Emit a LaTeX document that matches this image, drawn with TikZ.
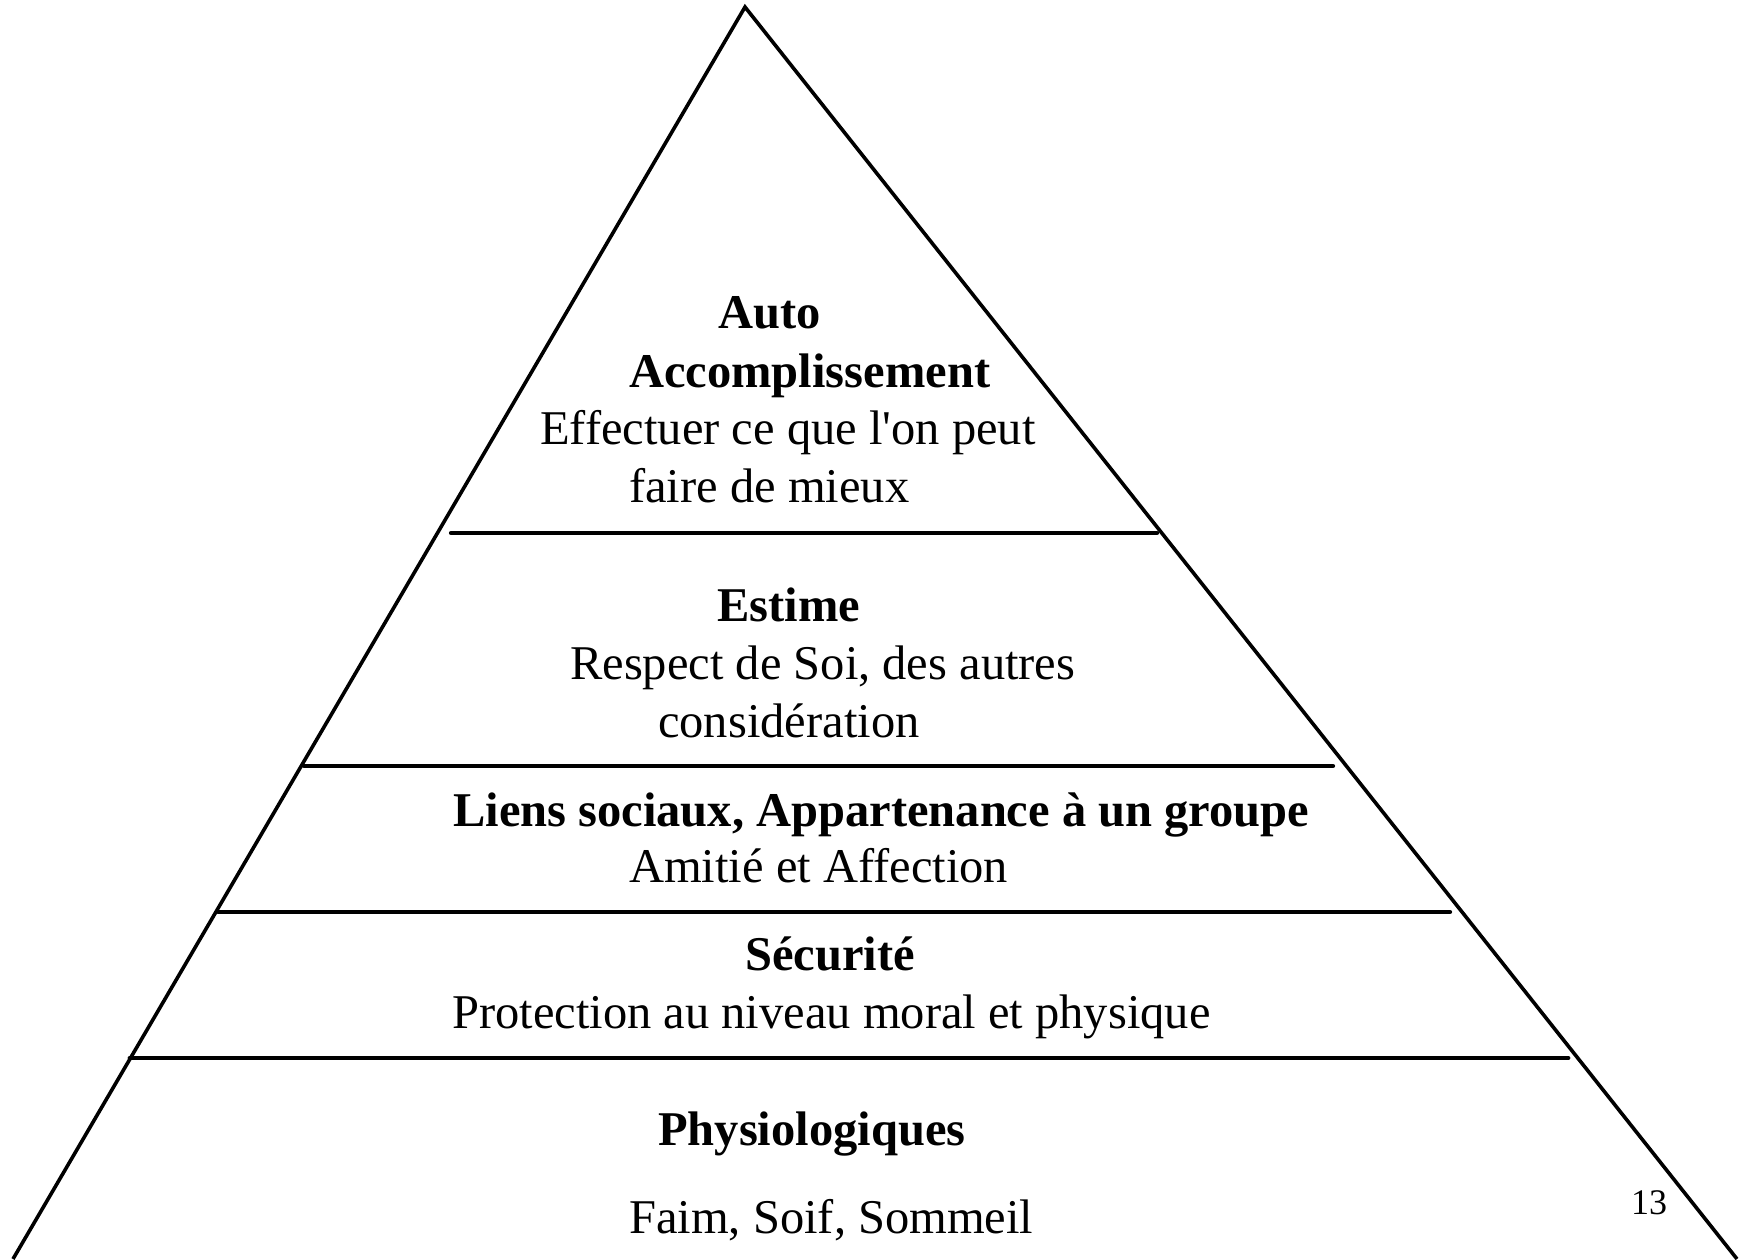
\documentclass[tikz,border=0pt]{standalone}
\usepackage{fontspec}
\setmainfont{Liberation Serif}
\begin{document}
\begin{tikzpicture}[x=1pt,y=-1pt,
  txt/.style={anchor=base west,inner sep=0pt,font=\fontsize{48.5}{58}\selectfont},
  btxt/.style={txt,font=\fontsize{48.5}{58}\selectfont\bfseries},
  side/.style={line width=3.6pt,line join=miter},
  level/.style={line width=4.2pt,line cap=round}]
\useasboundingbox (0,0) rectangle (1742,1259);
\clip (0,0) rectangle (1742,1259);
% pyramid sides
\coordinate (apex) at (745,7);
\coordinate (bl) at (13,1259);
\coordinate (br) at (1737,1259);
\draw[side] (bl) -- (apex) -- (br);
% level lines
\coordinate (l1a) at (451,533);  \coordinate (l1b) at (1157,533);
\coordinate (l2a) at (304,766);  \coordinate (l2b) at (1333,766);
\coordinate (l3a) at (218,912);  \coordinate (l3b) at (1450,912);
\coordinate (l4a) at (130,1058); \coordinate (l4b) at (1568,1058);
\draw[level] (l1a) -- (l1b);
\draw[level] (l2a) -- (l2b);
\draw[level] (l3a) -- (l3b);
\draw[level,line width=4.8pt] (l4a) -- (l4b);
% texts
\node[btxt] (auto) at (718,328) {Auto};
\node[btxt] (acc) at (629,387) {Accomplissement};
\node[txt] (eff) at (540,444) {Effectuer ce que l\textquotesingle on peut};
\node[txt] (faire) at (629,502) {faire de mieux};
\node[btxt] (estime) at (717,621) {Estime};
\node[txt] (resp) at (570,679) {Respect de Soi, des autres};
\node[txt] (consid) at (658,737) {considération};
\node[btxt] (liens) at (453,826) {Liens sociaux, Appartenance à un groupe};
\node[txt] (amitie) at (629,882) {Amitié et Affection};
\node[btxt] (secu) at (745,970) {Sécurité};
\node[txt] (prot) at (452,1028) {Protection au niveau moral et physique};
\node[btxt] (physio) at (658,1145) {Physiologiques};
\node[txt] (faim) at (629,1233) {Faim, Soif, Sommeil};
\node[anchor=base west,inner sep=0pt,font=\fontsize{36}{43}\selectfont] (page) at (1631,1214) {13};
\end{tikzpicture}
\end{document}
